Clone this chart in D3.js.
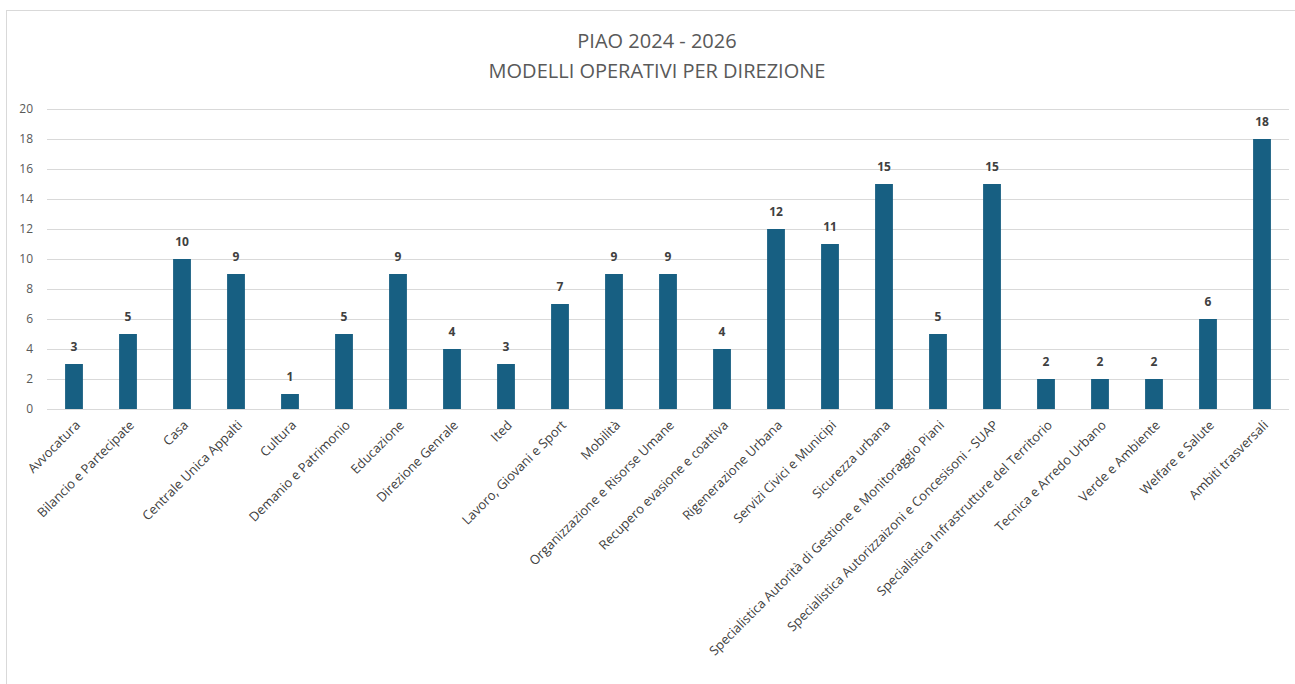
<!DOCTYPE html>
<html><head><meta charset="utf-8">
<script src="https://cdn.jsdelivr.net/npm/d3@7"></script>
<style>body{margin:0;background:#fff}</style>
</head><body>
<svg id="c" width="1295" height="684"></svg>
<script>
const categories = ["Avvocatura","Bilancio e Partecipate","Casa","Centrale Unica Appalti","Cultura","Demanio e Patrimonio","Educazione","Direzione Genrale","Ited","Lavoro, Giovani e Sport","Mobilità","Organizzazione e Risorse Umane","Recupero evasione e coattiva","Rigenerazione Urbana","Servizi Civici e Municipi","Sicurezza urbana","Specialistica Autorità di Gestione e Monitoraggio Piani","Specialistica Autorizzaizoni e Concesisoni - SUAP","Specialistica Infrastrutture del Territorio","Tecnica e Arredo Urbano","Verde e Ambiente","Welfare e Salute","Ambiti trasversali"];
const values = [3,5,10,9,1,5,9,4,3,7,9,9,4,12,11,15,5,15,2,2,2,6,18];
const yTicks = [0,2,4,6,8,10,12,14,16,18,20];
const titleLines = ["PIAO 2024 - 2026","MODELLI OPERATIVI PER DIREZIONE"];

const svg = d3.select("#c");
svg.append("rect").attr("x",6.5).attr("y",10.5).attr("width",1300).attr("height",700)
  .attr("fill","#fff").attr("stroke","#d9d9d9").attr("stroke-width",1);

const x = d3.scaleBand().domain(categories).range([47,1289]).paddingInner(0.67).paddingOuter(0.335);
const y = d3.scaleLinear().domain([0,20]).range([409,109]);

const grid = svg.append("g");
grid.selectAll("line").data(yTicks).join("line")
  .attr("x1",47).attr("x2",1289).attr("y1",d=>Math.round(y(d))+0.5).attr("y2",d=>Math.round(y(d))+0.5)
  .attr("stroke","#d9d9d9").attr("stroke-width",1);

const yAxis = svg.append("g").attr("transform","translate(47,0)")
  .call(d3.axisLeft(y).tickValues(yTicks).tickSize(0).tickPadding(14));
yAxis.select(".domain").remove();
yAxis.selectAll("text").attr("font-family","Open Sans, sans-serif").attr("font-size",12).attr("fill","#595959");

svg.append("g").selectAll("rect").data(values).join("rect")
  .attr("x",(d,i)=>x(categories[i])).attr("width",x.bandwidth())
  .attr("y",d=>y(d)).attr("height",d=>y(0)-y(d)).attr("fill","#175f82");

svg.append("g").selectAll("text").data(values).join("text")
  .attr("x",(d,i)=>x(categories[i])+x.bandwidth()/2).attr("y",d=>y(d)-13)
  .attr("text-anchor","middle").attr("font-family","Open Sans, sans-serif").attr("font-weight","bold")
  .attr("font-size",12).attr("fill","#404040").text(d=>d);

const xAxis = svg.append("g").attr("transform","translate(0,409)")
  .call(d3.axisBottom(x).tickSize(0).tickPadding(0));
xAxis.select(".domain").remove();
xAxis.selectAll("text")
  .attr("font-family","Open Sans, sans-serif").attr("font-size",13).attr("fill","#404040")
  .attr("text-anchor","end").attr("dy",0)
  .attr("transform","translate(7,17) rotate(-45)");

svg.append("g").selectAll("text").data(titleLines).join("text")
  .attr("x",657).attr("y",(d,i)=>48+i*30).attr("text-anchor","middle")
  .attr("font-family","Liberation Sans Narrow, Open Sans, sans-serif").attr("font-size",20).attr("fill","#595959").text(d=>d);
</script>
</body></html>
